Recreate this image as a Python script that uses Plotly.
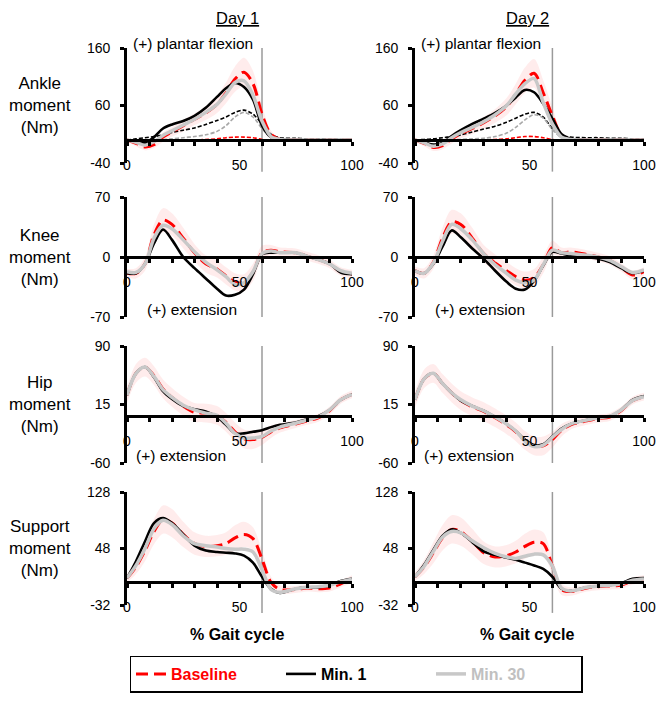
import plotly.graph_objects as go

# ---------------- data ----------------
X = [0, 4, 8, 12, 16, 20, 25, 30, 35, 40, 44, 48, 52, 56, 60, 64, 68, 75, 80, 85, 90, 95, 100]

# Ankle, Day 1
ank1_base = [0, -6, -12, -8, 5, 14, 25, 36, 47, 62, 82, 106, 118, 98, 45, 10, 1, 0, 0, 0, 0, 0, 0]
ank1_min1 = [0, -3, -5, 5, 20, 27, 33, 42, 56, 75, 90, 99, 92, 70, 25, 5, 1, 0, 0, 0, 0, 0, 0]
ank1_min30 = [0, -4, -9, -3, 8, 16, 26, 36, 48, 62, 80, 100, 103, 78, 33, 6, 1, 0, 0, 0, 0, 0, 0]
ank1_sd = [3, 5, 6, 6, 8, 8, 10, 10, 12, 15, 18, 22, 25, 22, 15, 6, 3, 2, 2, 2, 2, 2, 2]
ank1_blk_dash = [0, 2, 4, 6, 9, 13, 17, 21, 27, 34, 40, 48, 52, 45, 28, 10, 4, 3, 2, 2, 2, 1, 1]
ank1_gry_dash = [0, 0, 0, 0, 1, 2, 4, 6, 9, 15, 25, 40, 48, 40, 20, 4, 0, 0, 0, 0, 0, 0, 0]
ank1_red_dash = [0, 0, 0, 0, 0, 0, 0, 0, 1, 2, 4, 5, 5, 4, 1, 0, 0, 0, 0, 0, 0, 0, 0]

# Ankle, Day 2
ank2_base = [0, -6, -13, -10, 2, 11, 20, 30, 42, 58, 80, 104, 116, 82, 42, 8, 1, 0, 0, 0, 0, 0, 0]
ank2_min1 = [0, -4, -8, -5, 7, 17, 28, 37, 47, 60, 74, 87, 83, 63, 37, 10, 2, 0, 0, 0, 0, 0, 0]
ank2_min30 = [0, -5, -11, -7, 4, 13, 22, 32, 44, 60, 80, 98, 107, 65, 28, 5, 1, 0, 0, 0, 0, 0, 0]
ank2_sd = [3, 5, 6, 6, 8, 8, 10, 10, 12, 15, 18, 22, 25, 22, 15, 6, 3, 2, 2, 2, 2, 2, 2]
ank2_blk_dash = [0, 1, 2, 4, 6, 9, 14, 19, 24, 31, 38, 45, 48, 40, 20, 8, 5, 4, 4, 3, 3, 2, 2]
ank2_gry_dash = [0, 0, 0, 0, 0, 1, 2, 3, 6, 12, 22, 35, 44, 38, 18, 4, 0, 0, 0, 0, 0, 0, 0]
ank2_red_dash = [0, 0, 0, 0, 0, 0, 0, 0, 1, 2, 4, 6, 6, 4, 1, 0, 0, 0, 0, 0, 0, 0, 0]

# Knee
kne1_base = [-19, -19, -8, 26, 43, 38, 22, 5, -8, -14, -22, -29, -30, -18, 5, 8, 6, 5, 1, -3, -8, -17, -20]
kne1_min1 = [-19, -19, -8, 16, 32, 20, 0, -13, -25, -37, -45, -44, -38, -20, 3, 5, 5, 5, 1, -3, -8, -18, -20]
kne1_min30 = [-17, -18, -8, 22, 37, 33, 20, 6, -6, -15, -23, -32, -30, -17, 4, 7, 5, 5, 1, -3, -8, -16, -19]
kne1_sd = [5, 6, 8, 12, 14, 13, 12, 10, 10, 10, 10, 10, 10, 10, 8, 6, 5, 5, 5, 5, 5, 5, 5]
kne2_base = [-16, -19, -6, 22, 41, 38, 22, 4, -7, -16, -23, -27, -24, -9, 11, 5, 6, 3, 0, -4, -12, -21, -17]
kne2_min1 = [-16, -19, -8, 12, 31, 23, 10, -2, -16, -29, -37, -38, -28, -10, 6, 4, 2, 0, -2, -6, -13, -19, -16]
kne2_min30 = [-16, -19, -7, 18, 38, 33, 20, 4, -9, -19, -27, -30, -27, -9, 8, 5, 4, 2, 0, -4, -11, -18, -15]
kne2_sd = [5, 6, 8, 12, 14, 13, 12, 10, 10, 10, 10, 10, 10, 10, 8, 6, 5, 5, 5, 5, 5, 5, 5]

# Hip
hip1_base = [27, 55, 63, 52, 35, 24, 13, 5, 4, 1, -8, -20, -29, -30, -27, -20, -15, -10, -6, -2, 7, 21, 28]
hip1_min1 = [27, 55, 63, 50, 32, 22, 13, 9, 6, -1, -11, -22, -22, -20, -18, -14, -11, -8, -4, 0, 8, 21, 28]
hip1_min30 = [27, 55, 63, 51, 34, 24, 14, 8, 4, 1, -9, -22, -28, -28, -26, -19, -14, -9, -5, -1, 8, 21, 28]
hip1_sd = [10, 12, 12, 12, 12, 12, 12, 12, 12, 12, 12, 12, 12, 12, 10, 8, 6, 5, 5, 5, 5, 5, 5]
hip2_base = [21, 48, 55, 42, 30, 20, 12, 6, -2, -11, -20, -31, -38, -38, -30, -18, -11, -6, -3, -1, 7, 20, 25]
hip2_min1 = [21, 48, 55, 42, 30, 20, 13, 7, -1, -10, -19, -30, -37, -36, -26, -16, -10, -5, -2, 0, 8, 21, 26]
hip2_min30 = [21, 48, 55, 42, 30, 21, 13, 7, -1, -10, -19, -32, -39, -37, -27, -17, -10, -5, -2, 0, 8, 20, 25]
hip2_sd = [10, 12, 12, 12, 12, 12, 12, 12, 12, 12, 12, 12, 12, 12, 10, 8, 6, 5, 5, 5, 5, 5, 5]

# Support
sup1_base = [6, 22, 45, 72, 89, 84, 68, 55, 51, 52, 55, 63, 68, 62, 33, 0, -10, -10, -8, -9, -8, -2, 5]
sup1_min1 = [6, 30, 58, 84, 91, 84, 68, 52, 45, 43, 42, 41, 38, 28, 8, -9, -15, -9, -7, -7, -4, 2, 5]
sup1_min30 = [6, 24, 48, 76, 88, 82, 66, 55, 52, 50, 48, 47, 47, 43, 18, -10, -14, -9, -7, -6, -4, 1, 4]
sup1_sd = [6, 10, 15, 18, 20, 20, 18, 16, 15, 15, 16, 18, 18, 16, 12, 8, 6, 5, 5, 5, 5, 5, 5]
sup2_base = [8, 22, 42, 63, 75, 72, 58, 42, 36, 38, 43, 51, 57, 55, 23, -10, -13, -8, -6, -5, -4, 2, 5]
sup2_min1 = [8, 25, 46, 66, 75, 70, 57, 44, 39, 35, 32, 28, 24, 19, 8, -9, -12, -7, -5, -4, -1, 5, 6]
sup2_min30 = [8, 23, 44, 64, 72, 70, 59, 49, 41, 36, 34, 37, 40, 39, 23, -8, -12, -7, -5, -4, -2, 3, 5]
sup2_sd = [6, 10, 15, 18, 20, 20, 18, 16, 15, 15, 16, 18, 18, 16, 12, 8, 6, 5, 5, 5, 5, 5, 5]

ROW_LABELS = ["Ankle<br>moment<br>(Nm)", "Knee<br>moment<br>(Nm)", "Hip<br>moment<br>(Nm)", "Support<br>moment<br>(Nm)"]
Y_RANGES = [(-40, 160), (-70, 70), (-60, 90), (-32, 128)]
Y_TICKS = [[-40, 60, 160], [-70, 0, 70], [-60, 15, 90], [-32, 48, 128]]
X_TICK_VALS = [0, 10, 20, 30, 40, 50, 60, 70, 80, 90, 100]
X_TICK_LABELS = ["0", "", "", "", "", "50", "", "", "", "", "100"]
TOE_OFF = 60
COL_TITLES = ["Day 1", "Day 2"]
SERIES_NAMES = ["Baseline", "Min. 1", "Min. 30"]
X_TITLE = "% Gait cycle"
NOTES = ["(+) plantar flexion", "(+) extension", "(+) extension", None]

DATA = [
    [(ank1_base, ank1_min1, ank1_min30, ank1_sd, (ank1_blk_dash, ank1_gry_dash, ank1_red_dash)),
     (ank2_base, ank2_min1, ank2_min30, ank2_sd, (ank2_blk_dash, ank2_gry_dash, ank2_red_dash))],
    [(kne1_base, kne1_min1, kne1_min30, kne1_sd, None), (kne2_base, kne2_min1, kne2_min30, kne2_sd, None)],
    [(hip1_base, hip1_min1, hip1_min30, hip1_sd, None), (hip2_base, hip2_min1, hip2_min30, hip2_sd, None)],
    [(sup1_base, sup1_min1, sup1_min30, sup1_sd, None), (sup2_base, sup2_min1, sup2_min30, sup2_sd, None)],
]

# ---------------- layout geometry (window pixels) ----------------
PAGE_MARGIN = 8                      # browser default body margin
W, H = 665 - PAGE_MARGIN, 706 - PAGE_MARGIN
COL_PX = [(127, 352), (415, 644)]
ROW_PX = [(48, 163), (197, 317), (346, 463), (492, 605)]
NOTE_POS = [(4, 43), (18, 309), (7, 455)]      # offset from y-axis, y pixel
TOE_EXT = [0.075, 0.0, 0.0, 0.07]
FONT = "Liberation Sans, Arial, sans-serif"
RED, BLACK, GRAY = "#ff0000", "#000000", "#c8c8c8"


def fx(p):
    return (p - PAGE_MARGIN) / W


def fy(p):
    return 1 - (p - PAGE_MARGIN) / H


def xn(k):
    return "x" if k == 1 else f"x{k}"


def yn(k):
    return "y" if k == 1 else f"y{k}"


def xkey(k):
    return "xaxis" if k == 1 else f"xaxis{k}"


def ykey(k):
    return "yaxis" if k == 1 else f"yaxis{k}"


fig = go.Figure()
layout = {}
shapes = []
annotations = []
SM = 0.9

for r in range(4):
    ymin, ymax = Y_RANGES[r]
    top, bot = ROW_PX[r]
    for c in range(2):
        k = r * 2 + c + 1
        xa, ya = xn(k), yn(k)
        base, m1, m30, sd, extra = DATA[r][c]
        upper = [b + s for b, s in zip(base, sd)]
        lower = [b - s for b, s in zip(base, sd)]
        fig.add_trace(go.Scatter(x=X, y=upper, xaxis=xa, yaxis=ya, mode="lines",
                                 line=dict(width=0, shape="spline", smoothing=SM),
                                 showlegend=False, hoverinfo="skip"))
        fig.add_trace(go.Scatter(x=X, y=lower, xaxis=xa, yaxis=ya, mode="lines",
                                 line=dict(width=0, shape="spline", smoothing=SM),
                                 fill="tonexty", fillcolor="rgba(255,110,110,0.13)",
                                 showlegend=False, hoverinfo="skip"))
        if extra is not None:
            bd, gd, rd = extra
            for arr, col in ((bd, BLACK), (gd, "#a8a8a8"), (rd, RED)):
                fig.add_trace(go.Scatter(x=X, y=arr, xaxis=xa, yaxis=ya, mode="lines",
                                         line=dict(color=col, width=1.6, dash="4px,2px", shape="spline", smoothing=SM),
                                         showlegend=False, hoverinfo="skip"))
        first = (k == 1)
        fig.add_trace(go.Scatter(x=X, y=base, xaxis=xa, yaxis=ya, mode="lines",
                                 name=f"<span style='color:{RED}'><b>{SERIES_NAMES[0]}</b></span>",
                                 line=dict(color=RED, width=3, dash="12px,6px", shape="spline", smoothing=SM),
                                 showlegend=first))
        fig.add_trace(go.Scatter(x=X, y=m1, xaxis=xa, yaxis=ya, mode="lines",
                                 name=f"<span style='color:{BLACK}'><b>{SERIES_NAMES[1]}</b></span>",
                                 line=dict(color=BLACK, width=2.6, shape="spline", smoothing=SM),
                                 showlegend=first))
        fig.add_trace(go.Scatter(x=X, y=m30, xaxis=xa, yaxis=ya, mode="lines",
                                 name=f"<span style='color:#c0c0c0'><b>{SERIES_NAMES[2]}</b></span>",
                                 line=dict(color=GRAY, width=3.5, shape="spline", smoothing=SM),
                                 showlegend=first))

        xd = [fx(COL_PX[c][0]), fx(COL_PX[c][1])]
        yd = [fy(bot), fy(top)]
        zero_px = top + (ymax - 0) / (ymax - ymin) * (bot - top)
        layout[xkey(k)] = dict(domain=xd, range=[0, 100], anchor="free", position=fy(zero_px),
                               showline=True, linecolor="#000", linewidth=2.6,
                               ticks="outside", ticklen=4, tickwidth=2.6, tickcolor="#000",
                               tickvals=X_TICK_VALS, ticktext=X_TICK_LABELS, ticklabelstandoff=7,
                               showgrid=False, zeroline=False, automargin=False,
                               tickfont=dict(family=FONT, size=14, color="#000"))
        layout[ykey(k)] = dict(domain=yd, range=[ymin, ymax], anchor=xa,
                               showline=True, linecolor="#000", linewidth=2.6,
                               ticks="outside", ticklen=4, tickwidth=2.6, tickcolor="#000",
                               tickvals=Y_TICKS[r], ticktext=[str(v) for v in Y_TICKS[r]],
                               ticklabelstandoff=7, automargin=False,
                               showgrid=False, zeroline=False,
                               tickfont=dict(family=FONT, size=14, color="#000"))
        shapes.append(dict(type="line", xref=xa, yref=f"{ya} domain", x0=TOE_OFF, x1=TOE_OFF,
                           y0=-TOE_EXT[r], y1=1.0, line=dict(color="#9a9a9a", width=1.5), layer="below"))
        if NOTES[r]:
            ox, oy = NOTE_POS[r]
            annotations.append(dict(text=NOTES[r], xref="paper", yref="paper",
                                    x=fx(COL_PX[c][0] + ox), y=fy(oy), xanchor="left", yanchor="middle",
                                    showarrow=False, font=dict(family=FONT, size=15.5, color="#000")))

    annotations.append(dict(text=ROW_LABELS[r], xref="paper", yref="paper", x=fx(40), y=fy((top + bot) / 2),
                            xanchor="center", yanchor="middle",
                            showarrow=False, font=dict(family=FONT, size=17, color="#000"), align="center"))

for c in range(2):
    cx = (COL_PX[c][0] + COL_PX[c][1]) / 2
    annotations.append(dict(text=f"<u>{COL_TITLES[c]}</u>", xref="paper", yref="paper", x=fx(cx - 2), y=1.0,
                            xanchor="center", yanchor="top", borderpad=0,
                            showarrow=False, font=dict(family=FONT, size=16.5, color="#000")))
    annotations.append(dict(text=f"<b>{X_TITLE}</b>", xref="paper", yref="paper", x=fx(cx - 3), y=fy(634),
                            xanchor="center", yanchor="middle",
                            showarrow=False, font=dict(family=FONT, size=16, color="#000")))

fig.update_layout(
    template="none",
    width=W, height=H, margin=dict(l=0, r=0, t=0, b=0, autoexpand=False),
    paper_bgcolor="white", plot_bgcolor="rgba(0,0,0,0)",
    shapes=shapes, annotations=annotations,
    showlegend=True,
    legend=dict(orientation="h", x=fx(356), xanchor="center", y=fy(674), yanchor="middle",
                bordercolor="#000", borderwidth=1.5, bgcolor="white",
                font=dict(family=FONT, size=16), entrywidth=105, traceorder="normal"),
    **layout,
)

fig.write_html("out.html")
